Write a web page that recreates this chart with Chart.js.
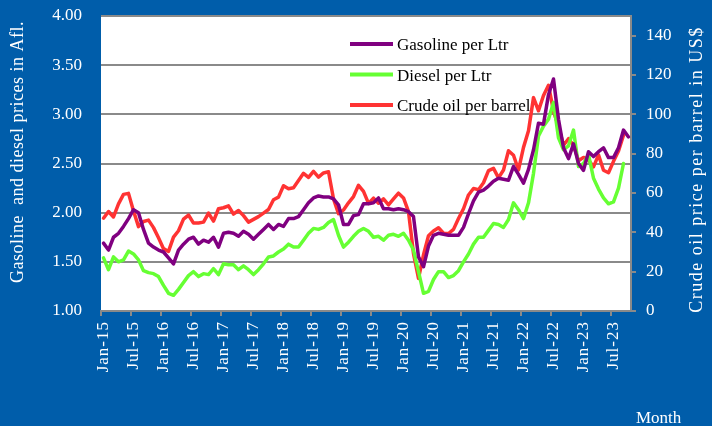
<!DOCTYPE html>
<html>
<head>
<meta charset="utf-8">
<script src="https://cdn.jsdelivr.net/npm/chart.js@4.4.1/dist/chart.umd.min.js"></script>
<style>
  html, body { margin: 0; padding: 0; background: #005DAA; }
  canvas { display: block; }
</style>
</head>
<body>
<canvas id="c" width="712" height="426"></canvas>
<script>
// ---------------- DATA ----------------
const months = [
  'Jan-15','Feb-15','Mar-15','Apr-15','May-15','Jun-15','Jul-15','Aug-15','Sep-15','Oct-15','Nov-15','Dec-15',
  'Jan-16','Feb-16','Mar-16','Apr-16','May-16','Jun-16','Jul-16','Aug-16','Sep-16','Oct-16','Nov-16','Dec-16',
  'Jan-17','Feb-17','Mar-17','Apr-17','May-17','Jun-17','Jul-17','Aug-17','Sep-17','Oct-17','Nov-17','Dec-17',
  'Jan-18','Feb-18','Mar-18','Apr-18','May-18','Jun-18','Jul-18','Aug-18','Sep-18','Oct-18','Nov-18','Dec-18',
  'Jan-19','Feb-19','Mar-19','Apr-19','May-19','Jun-19','Jul-19','Aug-19','Sep-19','Oct-19','Nov-19','Dec-19',
  'Jan-20','Feb-20','Mar-20','Apr-20','May-20','Jun-20','Jul-20','Aug-20','Sep-20','Oct-20','Nov-20','Dec-20',
  'Jan-21','Feb-21','Mar-21','Apr-21','May-21','Jun-21','Jul-21','Aug-21','Sep-21','Oct-21','Nov-21','Dec-21',
  'Jan-22','Feb-22','Mar-22','Apr-22','May-22','Jun-22','Jul-22','Aug-22','Sep-22','Oct-22','Nov-22','Dec-22',
  'Jan-23','Feb-23','Mar-23','Apr-23','May-23','Jun-23','Jul-23','Aug-23','Sep-23','Oct-23'
];

// Gasoline per Ltr (Afl., left axis)
const gasoline = [
  1.69,1.62,1.75,1.79,1.86,1.94,2.03,2.00,1.83,1.69,1.65,1.62,
  1.60,1.54,1.48,1.62,1.68,1.73,1.75,1.68,1.72,1.70,1.75,1.65,
  1.79,1.80,1.79,1.76,1.81,1.78,1.73,1.78,1.83,1.88,1.83,1.88,
  1.86,1.94,1.94,1.96,2.03,2.10,2.15,2.17,2.16,2.16,2.14,2.08,
  1.88,1.88,1.97,1.98,2.09,2.09,2.10,2.15,2.04,2.04,2.03,2.04,
  2.03,2.01,1.96,1.55,1.45,1.66,1.77,1.79,1.78,1.77,1.77,1.77,
  1.85,1.99,2.12,2.21,2.23,2.27,2.32,2.35,2.34,2.33,2.47,2.39,
  2.30,2.44,2.64,2.91,2.90,3.20,3.36,2.95,2.66,2.55,2.70,2.50,
  2.43,2.62,2.57,2.62,2.66,2.56,2.56,2.66,2.84,2.77
];

// Diesel per Ltr (Afl., left axis)
const diesel = [
  1.54,1.42,1.55,1.50,1.52,1.61,1.58,1.52,1.41,1.39,1.38,1.35,
  1.26,1.18,1.16,1.22,1.29,1.36,1.40,1.35,1.38,1.37,1.43,1.37,
  1.48,1.47,1.47,1.42,1.46,1.42,1.37,1.42,1.48,1.55,1.56,1.60,
  1.63,1.68,1.65,1.65,1.72,1.79,1.84,1.83,1.85,1.90,1.93,1.77,
  1.65,1.70,1.76,1.81,1.84,1.81,1.75,1.76,1.72,1.77,1.78,1.76,
  1.79,1.72,1.62,1.40,1.18,1.20,1.32,1.40,1.40,1.34,1.36,1.41,
  1.50,1.58,1.68,1.75,1.75,1.82,1.89,1.88,1.85,1.93,2.10,2.03,
  1.94,2.10,2.40,2.78,2.88,2.95,3.12,2.76,2.64,2.68,2.84,2.47,
  2.50,2.59,2.35,2.24,2.15,2.09,2.11,2.25,2.50,null
];

// Crude oil per barrel (US$, right axis)
const crude = [
  47.2,50.6,47.8,54.5,59.3,59.8,50.9,42.9,45.5,46.2,42.4,37.2,
  31.7,30.3,37.6,40.8,46.7,48.8,44.7,44.7,45.2,49.8,45.7,52.0,
  52.5,53.5,49.3,51.1,48.5,45.2,46.6,48.0,49.8,51.6,56.6,57.9,
  63.7,62.2,62.7,66.3,70.0,67.9,71.0,68.1,70.2,70.8,57.0,49.5,
  51.4,55.0,58.2,63.9,60.8,54.7,57.4,54.8,57.0,54.0,57.0,59.9,
  57.5,50.5,29.2,16.6,28.6,38.3,40.7,42.3,39.6,39.4,41.5,47.0,
  52.0,59.0,62.3,61.7,65.2,71.4,72.5,67.7,71.7,81.5,79.2,71.7,
  83.2,91.6,108.5,101.8,109.6,114.8,101.6,93.7,84.3,87.6,84.4,76.4,
  78.1,76.8,73.3,79.4,71.6,70.3,76.1,81.4,89.4,null
];

const seriesNames = ['Gasoline per Ltr', 'Diesel per Ltr', 'Crude oil per barrel'];
const leftAxisTitle = 'Gasoline  and diesel prices in Afl.';
const rightAxisTitle = 'Crude oil price per barrel in US$';
const xAxisTitle = 'Month';

// ---------------- STYLE ----------------
const BG = '#005DAA';
const GRID = '#8A8A8A';
const FONT = '"Liberation Serif", "Times New Roman", serif';
const COLORS = ['#800080', '#66FF33', '#FF3333'];
const TITLE_POS = {
  y:  { x: 18.5, y: 152,   spacing: '0.5px', size: 18 },
  y2: { x: 697,  y: 169.5, spacing: '1.5px', size: 18 }
};
const LEGEND = { x0: 350, x1: 393, tx: 397, y0: 44, dy: 30.5, lw: 4 };

// Category scale whose tick labels are drawn with a little letter spacing
class SpacedCategory extends Chart.CategoryScale {
  drawLabels(area) {
    const ctx = this.ctx;
    ctx.save();
    if ('letterSpacing' in ctx) ctx.letterSpacing = '1px';
    super.drawLabels(area);
    ctx.restore();
  }
}
SpacedCategory.id = 'spacedCategory';
SpacedCategory.defaults = {};

// Linear scale whose title reads bottom-to-top on both sides
class TitledLinear extends Chart.LinearScale {
  drawTitle() {
    const t = this.options.title;
    if (!t || !t.display) return;
    const p = TITLE_POS[this.id];
    const ctx = this.ctx;
    ctx.save();
    ctx.translate(p.x, p.y);
    ctx.rotate(-Math.PI / 2);
    ctx.font = p.size + 'px ' + FONT;
    ctx.fillStyle = t.color;
    ctx.textAlign = 'center';
    ctx.textBaseline = 'middle';
    if ('letterSpacing' in ctx) ctx.letterSpacing = p.spacing;
    ctx.fillText(t.text, 0, 0);
    ctx.restore();
  }
}
TitledLinear.id = 'titledLinear';
TitledLinear.defaults = {};

Chart.register(SpacedCategory, TitledLinear);

const backgroundPlugin = {
  id: 'bg',
  beforeDraw(chart) {
    const {ctx, chartArea: a} = chart;
    ctx.save();
    ctx.fillStyle = BG;
    ctx.fillRect(0, 0, chart.width, chart.height);
    ctx.fillStyle = '#FFFFFF';
    ctx.fillRect(a.left, a.top, a.right - a.left, a.bottom - a.top);
    ctx.restore();
  }
};

const insideLegend = {
  id: 'insideLegend',
  beforeDatasetsDraw(chart) {
    const ctx = chart.ctx;
    chart.data.datasets.forEach((ds, i) => {
      const y = LEGEND.y0 + i * LEGEND.dy;
      ctx.save();
      ctx.strokeStyle = ds.borderColor;
      ctx.lineWidth = LEGEND.lw;
      ctx.beginPath();
      ctx.moveTo(LEGEND.x0, y);
      ctx.lineTo(LEGEND.x1, y);
      ctx.stroke();
      ctx.fillStyle = '#000000';
      ctx.font = '17px ' + FONT;
      ctx.textAlign = 'left';
      ctx.textBaseline = 'alphabetic';
      ctx.fillText(ds.label, LEGEND.tx, y + 6);
      ctx.restore();
    });
  }
};

const monthLabel = {
  id: 'monthLabel',
  afterDraw(chart) {
    const ctx = chart.ctx;
    ctx.save();
    ctx.fillStyle = '#FFFFFF';
    ctx.font = '17px ' + FONT;
    ctx.textAlign = 'left';
    ctx.textBaseline = 'alphabetic';
    ctx.fillText(xAxisTitle, 636, 423);
    ctx.restore();
  }
};

function noOverflow(s) { s.paddingTop = 0; s.paddingBottom = 0; s.paddingLeft = 0; s.paddingRight = 0; }

const lineDefaults = { borderWidth: 3.5, pointRadius: 0, tension: 0, fill: false,
  borderJoinStyle: 'round', borderCapStyle: 'round', spanGaps: false };

new Chart(document.getElementById('c'), {
  type: 'line',
  data: {
    labels: months,
    datasets: [
      Object.assign({ label: seriesNames[0], data: gasoline, borderColor: COLORS[0], backgroundColor: COLORS[0], yAxisID: 'y' }, lineDefaults),
      Object.assign({ label: seriesNames[1], data: diesel,   borderColor: COLORS[1], backgroundColor: COLORS[1], yAxisID: 'y' }, lineDefaults),
      Object.assign({ label: seriesNames[2], data: crude,    borderColor: COLORS[2], backgroundColor: COLORS[2], yAxisID: 'y2' }, lineDefaults)
    ]
  },
  options: {
    responsive: false,
    animation: false,
    devicePixelRatio: 1,
    layout: { padding: { top: 16, left: 0, right: 0, bottom: 0 } },
    plugins: { legend: { display: false }, tooltip: { enabled: false }, title: { display: false } },
    scales: {
      x: {
        type: 'spacedCategory',
        offset: true,
        afterFit(s) { s.height = 115; noOverflow(s); },
        grid: {
          offset: true,
          drawOnChartArea: false,
          drawTicks: true,
          tickLength: 5,
          lineWidth: 2,
          color: (c) => (c.index !== undefined && c.index % 6 === 0) ? GRID : 'rgba(0,0,0,0)'
        },
        border: { display: true, color: GRID, width: 2 },
        ticks: {
          autoSkip: false,
          minRotation: 90,
          maxRotation: 90,
          padding: 5,
          color: '#FFFFFF',
          font: { family: FONT, size: 17 },
          callback: function (v, i) { return i % 6 === 0 ? this.getLabelForValue(v) : ''; }
        }
      },
      y: {
        type: 'titledLinear',
        position: 'left',
        min: 1, max: 4,
        afterFit(s) { s.width = 101; noOverflow(s); },
        grid: { drawOnChartArea: true, drawTicks: false, color: GRID, lineWidth: 2 },
        border: { display: false },
        ticks: {
          stepSize: 0.5, padding: 19, color: '#FFFFFF',
          font: { family: FONT, size: 17 },
          callback: (v) => Number(v).toFixed(2)
        },
        title: { display: true, text: leftAxisTitle, color: '#FFFFFF' }
      },
      y2: {
        type: 'titledLinear',
        position: 'right',
        min: 0, max: 150,
        afterFit(s) { s.width = 81; noOverflow(s); },
        grid: { drawOnChartArea: false, drawTicks: true, tickLength: 5, color: GRID, lineWidth: 2 },
        border: { display: true, color: GRID, width: 2 },
        ticks: {
          stepSize: 20, includeBounds: false, padding: 10, color: '#FFFFFF',
          font: { family: FONT, size: 17 },
          callback: (v) => String(v)
        },
        title: { display: true, text: rightAxisTitle, color: '#FFFFFF' }
      }
    }
  },
  plugins: [backgroundPlugin, insideLegend, monthLabel]
});
</script>
</body>
</html>
